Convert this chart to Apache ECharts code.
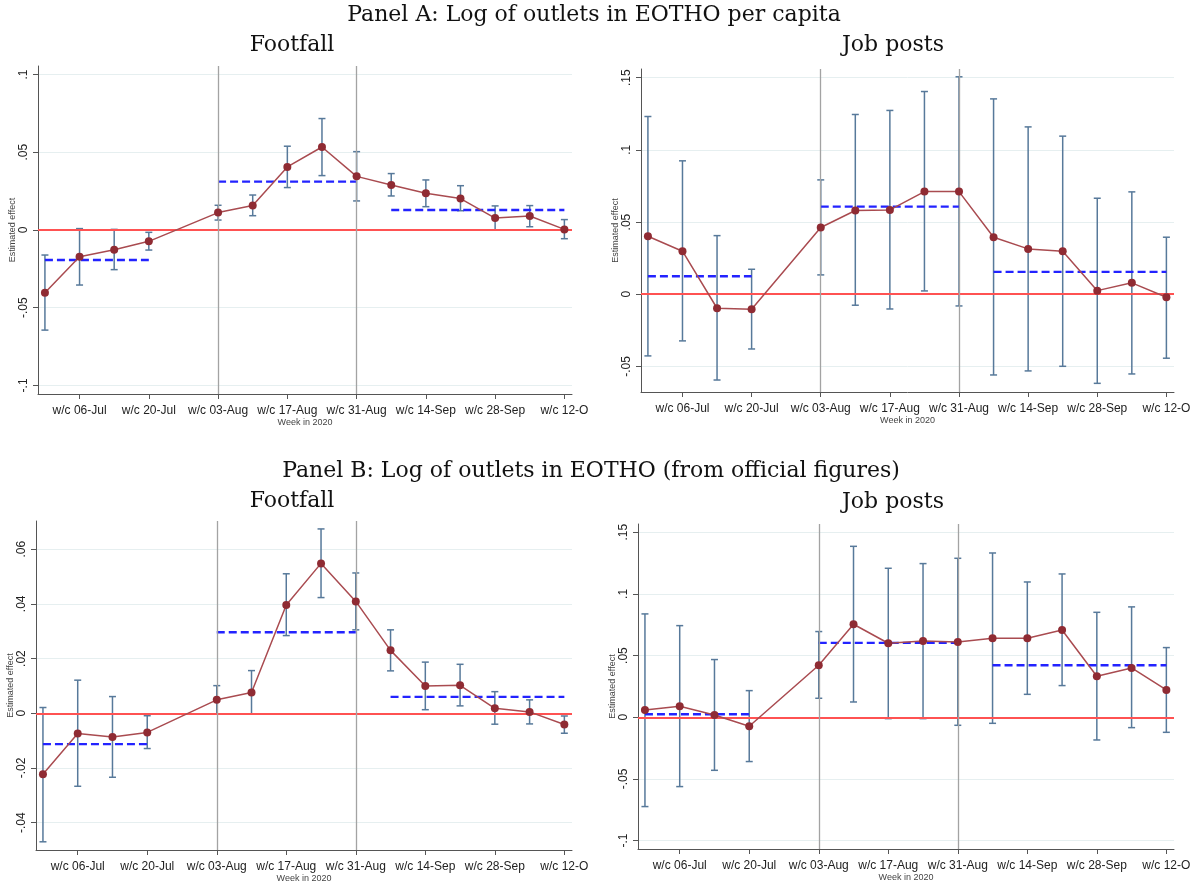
<!DOCTYPE html>
<html lang="en">
<head>
<meta charset="utf-8">
<title>EOTHO event study</title>
<script src="https://cdn.jsdelivr.net/npm/echarts@6.0.0/dist/echarts.min.js"></script>
<style>
  html, body { margin: 0; padding: 0; background: #fff; }
  #main { width: 1190px; height: 886px; }
</style>
</head>
<body>
<div id="main"></div>
<script>
// week index: 0 = w/c 29-Jun ... 15 = w/c 12-Oct (week 4, w/c 27-Jul, is the omitted one)
var weekIdx = [0, 1, 2, 3, 5, 6, 7, 8, 9, 10, 11, 12, 13, 14, 15];
var tickIdx = [1, 3, 5, 7, 9, 11, 13, 15];
var tickLabels = ['w/c 06-Jul', 'w/c 20-Jul', 'w/c 03-Aug', 'w/c 17-Aug', 'w/c 31-Aug', 'w/c 14-Sep', 'w/c 28-Sep', 'w/c 12-O'];
// average segments: pre, during, post
var segFrom = [0, 5, 10];
var segTo = [3, 9, 15];
var refLines = [5, 9];

// Panel A, footfall
var footA = [-0.0403, -0.0172, -0.0127, -0.0073, 0.0112, 0.0157, 0.0406, 0.0534, 0.0345, 0.029, 0.0236, 0.0202, 0.0077, 0.009, 0.0004];
var footALo = [-0.0644, -0.0354, -0.0255, -0.0129, 0.0064, 0.0092, 0.0273, 0.035, 0.0187, 0.0219, 0.015, 0.0124, 0.0, 0.0021, -0.0056];
var footAHi = [-0.0161, 0.0009, 0.0004, -0.0015, 0.0159, 0.0225, 0.0539, 0.0717, 0.0504, 0.0363, 0.0322, 0.0285, 0.0155, 0.0157, 0.0067];
var footAAvg = [-0.0193, 0.0311, 0.0129];
var footATicks = [-0.1, -0.05, 0, 0.05, 0.1];

// Panel A, job posts
var jobA = [0.0402, 0.0298, -0.0097, -0.0104, 0.0462, 0.058, 0.0584, 0.0711, 0.0711, 0.0395, 0.0314, 0.0298, 0.0025, 0.0079, -0.0021];
var jobALo = [-0.0427, -0.0323, -0.0594, -0.0379, 0.0134, -0.0076, -0.0102, 0.0023, -0.0081, -0.0559, -0.0531, -0.0499, -0.0617, -0.0552, -0.0443];
var jobAHi = [0.1231, 0.0924, 0.0406, 0.0173, 0.0792, 0.1245, 0.1273, 0.1404, 0.1506, 0.1353, 0.1159, 0.1095, 0.0665, 0.0709, 0.0395];
var jobAAvg = [0.0125, 0.0607, 0.0155];
var jobATicks = [-0.05, 0, 0.05, 0.1, 0.15];

// Panel B, footfall
var footB = [-0.0223, -0.0074, -0.0087, -0.007, 0.0049, 0.0076, 0.0396, 0.0548, 0.0409, 0.023, 0.01, 0.0102, 0.0018, 0.0005, -0.0041];
var footBLo = [-0.047, -0.0267, -0.0234, -0.0129, -0.0002, -0.0002, 0.0284, 0.0423, 0.0305, 0.0155, 0.0013, 0.0027, -0.004, -0.0039, -0.0073];
var footBHi = [0.0021, 0.0121, 0.0061, -0.0009, 0.0101, 0.0156, 0.051, 0.0674, 0.0513, 0.0305, 0.0187, 0.0179, 0.0079, 0.0049, -0.001];
var footBAvg = [-0.0113, 0.0296, 0.006];
var footBTicks = [-0.04, -0.02, 0, 0.02, 0.04, 0.06];

// Panel B, job posts
var jobB = [0.0059, 0.0089, 0.0019, -0.0073, 0.0422, 0.0754, 0.06, 0.0619, 0.0611, 0.0641, 0.0641, 0.0708, 0.0332, 0.04, 0.0222];
var jobBLo = [-0.0724, -0.0562, -0.043, -0.0359, 0.0154, 0.0124, -0.0011, -0.0011, -0.0065, -0.0049, 0.0186, 0.0257, -0.0184, -0.0084, -0.0122];
var jobBHi = [0.0838, 0.0743, 0.0468, 0.0216, 0.0695, 0.1386, 0.1208, 0.1246, 0.1289, 0.1332, 0.1097, 0.1162, 0.0851, 0.0895, 0.0565];
var jobBAvg = [0.0024, 0.0603, 0.0422];
var jobBTicks = [-0.1, -0.05, 0, 0.05, 0.1, 0.15];

var panels = [
  { est: footA, lo: footALo, hi: footAHi, avg: footAAvg, ticks: footATicks,
    grid: { left: 38, top: 66, width: 534, height: 328 }, ymin: -0.1055, ymax: 0.1055 },
  { est: jobA, lo: jobALo, hi: jobAHi, avg: jobAAvg, ticks: jobATicks,
    grid: { left: 641, top: 69, width: 533, height: 323 }, ymin: -0.0677, ymax: 0.156 },
  { est: footB, lo: footBLo, hi: footBHi, avg: footBAvg, ticks: footBTicks,
    grid: { left: 36, top: 521, width: 536, height: 329 }, ymin: -0.05, ymax: 0.0703 },
  { est: jobB, lo: jobBLo, hi: jobBHi, avg: jobBAvg, ticks: jobBTicks,
    grid: { left: 638, top: 524, width: 536, height: 325 }, ymin: -0.1068, ymax: 0.1567 }
];

function stataFmt(v) {
  if (Math.abs(v) < 1e-9) return '0';
  return String(+v.toFixed(3)).replace('0.', '.');
}

var grids = [], xAxes = [], yAxes = [], series = [];

panels.forEach(function (p, i) {
  grids.push(Object.assign({ outerBoundsMode: 'none', containLabel: false }, p.grid));

  xAxes.push({
    type: 'value', gridIndex: i, min: -0.2, max: 15.22,
    name: 'Week in 2020', nameLocation: 'middle', nameGap: 24, nameMoveOverlap: false,
    nameTextStyle: { fontFamily: 'Liberation Sans', fontSize: 9, color: '#444' },
    axisLine: { onZero: false, lineStyle: { color: '#555', width: 1 } },
    axisTick: { customValues: tickIdx, length: 5, lineStyle: { color: '#555' } },
    axisLabel: {
      customValues: tickIdx, margin: 11, fontFamily: 'Liberation Sans', fontSize: 12, color: '#222',
      formatter: function (v) { return tickLabels[tickIdx.indexOf(Math.round(v))] || ''; }
    },
    splitLine: { show: false }
  });

  yAxes.push({
    type: 'value', gridIndex: i, min: p.ymin, max: p.ymax,
    name: 'Estimated effect', nameLocation: 'middle', nameGap: 21, nameMoveOverlap: false,
    nameTextStyle: { fontFamily: 'Liberation Sans', fontSize: 9, color: '#444' },
    axisLine: { show: true, onZero: false, lineStyle: { color: '#555', width: 1 } },
    axisTick: { show: true, customValues: p.ticks, length: 5, lineStyle: { color: '#555' } },
    axisLabel: {
      customValues: p.ticks, rotate: 90, margin: 8, fontFamily: 'Liberation Sans', fontSize: 12, color: '#222',
      formatter: stataFmt
    },
    splitLine: { show: true, lineStyle: { color: '#e6eff0', width: 1 } }
  });

  // reference lines: zero and the two event weeks
  series.push({
    type: 'line', xAxisIndex: i, yAxisIndex: i, data: [], z: 1, silent: true,
    markLine: {
      symbol: 'none', silent: true, animation: false, label: { show: false },
      data: [
        { yAxis: 0, lineStyle: { color: '#ff5252', width: 1.8, type: 'solid' } }
      ].concat(refLines.map(function (x) {
        return { xAxis: x, lineStyle: { color: '#a3a3a3', width: 1.3, type: 'solid' } };
      }))
    }
  });

  // confidence intervals
  series.push({
    type: 'custom', xAxisIndex: i, yAxisIndex: i, z: 2, silent: true,
    data: weekIdx.map(function (w, k) { return [w, p.lo[k], p.hi[k]]; }),
    encode: { x: 0, y: [1, 2] },
    renderItem: function (params, api) {
      var lo = api.coord([api.value(0), api.value(1)]);
      var hi = api.coord([api.value(0), api.value(2)]);
      var cap = 3.5;
      var st = { stroke: '#57799a', lineWidth: 1.5 };
      return {
        type: 'group',
        children: [
          { type: 'line', shape: { x1: lo[0], y1: lo[1], x2: hi[0], y2: hi[1] }, style: st },
          { type: 'line', shape: { x1: lo[0] - cap, y1: lo[1], x2: lo[0] + cap, y2: lo[1] }, style: st },
          { type: 'line', shape: { x1: hi[0] - cap, y1: hi[1], x2: hi[0] + cap, y2: hi[1] }, style: st }
        ]
      };
    }
  });

  // period averages (dashed)
  p.avg.forEach(function (v, s) {
    series.push({
      type: 'line', xAxisIndex: i, yAxisIndex: i, z: 4, silent: true, symbol: 'none',
      data: [[segFrom[s], v], [segTo[s], v]],
      lineStyle: { color: '#2323ff', width: 2.4, type: [8, 4] }
    });
  });

  // point estimates
  series.push({
    type: 'line', xAxisIndex: i, yAxisIndex: i, z: 5, silent: true,
    data: weekIdx.map(function (w, k) { return [w, p.est[k]]; }),
    symbol: 'circle', symbolSize: 8,
    itemStyle: { color: '#8f2b33' },
    lineStyle: { color: '#a94b50', width: 1.5 }
  });
});

var serif = 'DejaVu Serif';
var titles = [
  { text: 'Panel A: Log of outlets in EOTHO per capita', left: 594, top: 4 },
  { text: 'Footfall', left: 292, top: 34 },
  { text: 'Job posts', left: 893, top: 34 },
  { text: 'Panel B: Log of outlets in EOTHO (from official figures)', left: 591, top: 460 },
  { text: 'Footfall', left: 292, top: 490 },
  { text: 'Job posts', left: 893, top: 491 }
].map(function (t) {
  return {
    text: t.text, left: t.left, top: t.top, textAlign: 'center', padding: 0,
    textStyle: { fontFamily: serif, fontSize: 22, fontWeight: 'normal', color: '#111' }
  };
});

var myChart = echarts.init(document.getElementById('main'));
myChart.setOption({
  animation: false,
  backgroundColor: '#fff',
  title: titles,
  grid: grids,
  xAxis: xAxes,
  yAxis: yAxes,
  series: series
});
</script>
</body>
</html>
